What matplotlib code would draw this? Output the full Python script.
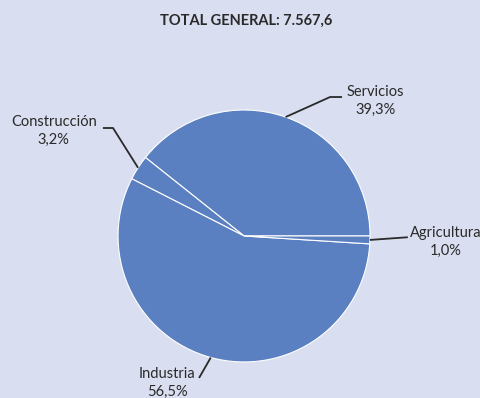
import numpy as np
import matplotlib
matplotlib.use("Agg")
import matplotlib.pyplot as plt

sectors = ["Servicios", "Construcción", "Industria", "Agricultura"]
shares = [39.3, 3.2, 56.5, 1.0]
share_labels = ["39,3%", "3,2%", "56,5%", "1,0%"]
title = "TOTAL GENERAL: 7.567,6"

BG = "#D9DEF0"
PIE = "#5B80C1"
INK = "#2A2A2A"

# label layout in pie-radius units: (elbow point, line end, text centre)
label_layout = {
    "Servicios": ((0.683, 1.103), (0.778, 1.103), (1.04, 1.07)),
    "Construcción": ((-1.04, 0.857), (-1.12, 0.857), (-1.51, 0.83)),
    "Agricultura": (None, (1.30, -0.01), (1.60, -0.05)),
    "Industria": (None, (-0.357, -1.127), (-0.61, -1.17)),
}

plt.rcParams["font.family"] = ["Lato", "DejaVu Sans"]

fig = plt.figure(figsize=(4.8, 3.98), dpi=100, facecolor=BG)
ax = fig.add_axes([0, 0, 1, 1])
ax.set_facecolor(BG)

wedges, _ = ax.pie(
    shares,
    startangle=0,
    counterclock=True,
    colors=[PIE] * len(shares),
    wedgeprops=dict(edgecolor="white", linewidth=0.8),
    radius=1.0,
)

for w, name, pct in zip(wedges, sectors, share_labels):
    mid = np.deg2rad((w.theta1 + w.theta2) / 2)
    start = (np.cos(mid), np.sin(mid))
    elbow, end, txt = label_layout[name]
    pts = [start] + ([elbow] if elbow else []) + [end]
    xs, ys = zip(*pts)
    ax.plot(xs, ys, color=INK, linewidth=1.3, solid_capstyle="butt")
    ax.text(txt[0], txt[1], f"{name}\n{pct}", ha="center", va="center",
            fontsize=10.5, color=INK, linespacing=1.35)

ax.set_xlim(-1.937, 1.873)
ax.set_ylim(-1.286, 1.873)
ax.set_aspect("equal")
ax.axis("off")

fig.text(0.513, 0.948, title, ha="center", va="center", fontsize=10.5,
         fontweight="bold", color=INK)

fig.savefig("out.png", dpi=100, facecolor=BG)
